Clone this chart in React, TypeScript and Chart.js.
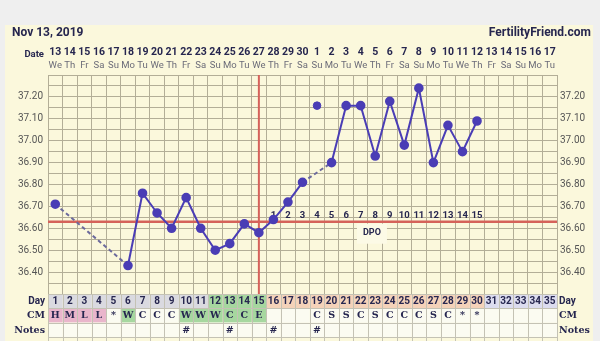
import React, { useEffect, useRef } from 'react';
import { Chart, registerables } from 'chart.js';
Chart.register(...registerables);

// ---------- data ----------
const cycleDays = ['1','2','3','4','5','6','7','8','9','10','11','12','13','14','15','16','17','18','19','20','21','22','23','24','25','26','27','28','29','30','31','32','33','34','35'];
const dateLabels = ['13','14','15','16','17','18','19','20','21','22','23','24','25','26','27','28','29','30','1','2','3','4','5','6','7','8','9','10','11','12','13','14','15','16','17'];
const weekdayLabels = ['We','Th','Fr','Sa','Su','Mo','Tu','We','Th','Fr','Sa','Su','Mo','Tu','We','Th','Fr','Sa','Su','Mo','Tu','We','Th','Fr','Sa','Su','Mo','Tu','We','Th','Fr','Sa','Su','Mo','Tu'];
const temps: (number | null)[] = [36.71, null, null, null, null, 36.43, 36.76, 36.67, 36.60, 36.74, 36.60, 36.50, 36.53, 36.62, 36.58, 36.64, 36.72, 36.81, null, 36.90, 37.16, 37.16, 36.93, 37.18, 36.98, 37.24, 36.90, 37.07, 36.95, 37.09, null, null, null, null, null];
const discardedTemps: (number | null)[] = [null, null, null, null, null, null, null, null, null, null, null, null, null, null, null, null, null, null, 37.16, null, null, null, null, null, null, null, null, null, null, null, null, null, null, null, null];
const coverline = 36.63;
const ovulationDay = '15';
const dpoLabels = ['1','2','3','4','5','6','7','8','9','10','11','12','13','14','15'];
const dpoStartDay = '16';
const yTickLabels = ['36.40','36.50','36.60','36.70','36.80','36.90','37.00','37.10','37.20'];
const cmCodes = ['H','M','L','L','*','W','C','C','C','W','W','W','C','C','E','','','','C','S','S','C','S','C','C','C','S','C','*','*','','','','',''];
const cmShade = ['pink','pink','pink','pink','','green','','','','green','green','green','green','green','green','','','','','','','','','','','','','','','','','','','',''];
const dayShade = ['grey','grey','grey','grey','grey','grey','grey','grey','grey','grey','grey','green','green','green','green','peach','peach','peach','peach','peach','peach','peach','peach','peach','peach','peach','peach','peach','peach','peach','lav','lav','lav','lav','lav'];
const notes = ['','','','','','','','','','#','','','#','','','#','','','#','','','','','','','','','','','','','','','',''];

// ---------- styles ----------
const NAVY = '#26264f';
const GRID = '#b3ae97';
const CREAM = '#fbf8dc';
const RED = '#d5625a';
const LINE = '#4a3db5';
const shadeColors: Record<string, string> = {
  grey: '#dadae0', green: '#a6d79f', peach: '#f4d2b9', lav: '#dcdcef', pink: '#e9b5cb', '': '#fbfbf1',
};
const SANS = 'Roboto, "Liberation Sans", sans-serif';
const SERIF = '"DejaVu Serif", serif';

const gridValues: number[] = [];
for (let i = 0; i <= 20; i++) gridValues.push(Math.round((36.3 + i * 0.05) * 100) / 100);

const tickCb = (v: any) => {
  const s = Number(v).toFixed(2);
  return yTickLabels.includes(s) ? s : '';
};

const decor = {
  id: 'ffDecor',
  beforeDraw(chart: any) {
    const { ctx, width, height } = chart;
    ctx.save();
    ctx.fillStyle = '#efefef';
    ctx.fillRect(0, 0, width, height);
    ctx.fillStyle = CREAM;
    ctx.fillRect(5, 25, 588, height - 25);
    ctx.restore();
  },
  beforeDatasetsDraw(chart: any) {
    const { ctx, chartArea: ca } = chart;
    const x = chart.scales.x;
    const y = chart.scales.y;
    ctx.save();
    const yc = y.getPixelForValue(coverline);
    const xd = (x.getPixelForValue(cycleDays.indexOf('22')) + x.getPixelForValue(cycleDays.indexOf('23'))) / 2 + 4;
    ctx.fillStyle = '#fcfae6';
    ctx.fillRect(xd - 15, yc + 2, 30, 20);
    ctx.fillStyle = NAVY;
    ctx.font = `bold 9px ${SANS}`;
    ctx.textAlign = 'center';
    ctx.textBaseline = 'middle';
    ctx.fillText('DPO', xd, yc + 11.5);
    ctx.strokeStyle = RED;
    ctx.lineWidth = 2.5;
    ctx.beginPath();
    ctx.moveTo(ca.left, yc);
    ctx.lineTo(ca.right, yc);
    ctx.stroke();
    const xo = x.getPixelForValue(cycleDays.indexOf(ovulationDay));
    ctx.lineWidth = 2;
    ctx.beginPath();
    ctx.moveTo(xo, ca.top);
    ctx.lineTo(xo, ca.bottom);
    ctx.stroke();
    const s = cycleDays.indexOf(dpoStartDay);
    ctx.fillStyle = NAVY;
    ctx.font = `bold 9.5px ${SANS}`;
    ctx.textBaseline = 'alphabetic';
    dpoLabels.forEach((t, i) => {
      ctx.fillText(t, x.getPixelForValue(s + i), yc - 4);
    });
    ctx.restore();
  },
  afterDraw(chart: any) {
    const { ctx, chartArea: ca, height } = chart;
    const x = chart.scales.x;
    const colW = x.getPixelForValue(1) - x.getPixelForValue(0);
    ctx.save();
    ctx.fillStyle = NAVY;
    ctx.textBaseline = 'middle';
    ctx.font = `bold 12px ${SANS}`;
    ctx.textAlign = 'left';
    ctx.fillText('Nov 13, 2019', 12, 33);
    ctx.textAlign = 'right';
    ctx.fillText('FertilityFriend.com', 591, 33);
    ctx.textBaseline = 'alphabetic';
    ctx.font = `bold 9.5px ${SANS}`;
    ctx.fillText('Date', 44, 57);
    ctx.textAlign = 'center';
    dateLabels.forEach((t, i) => {
      const px = x.getPixelForValue(i);
      ctx.fillStyle = NAVY;
      ctx.font = `bold 10.5px ${SANS}`;
      ctx.fillText(t, px, 55);
      ctx.fillStyle = '#6b6b78';
      ctx.font = `9.5px ${SANS}`;
      ctx.fillText(weekdayLabels[i], px, 68);
    });
    const rowH = 14.3;
    const top = ca.bottom;
    const rows = [
      { label: 'Day', texts: cycleDays, shade: dayShade, font: `bold 10px ${SANS}` },
      { label: 'CM', texts: cmCodes, shade: cmShade, font: `bold 9.5px ${SERIF}` },
      { label: 'Notes', texts: notes, shade: [] as string[], font: `bold 9.5px ${SERIF}` },
    ];
    rows.forEach((r, ri) => {
      const ry = top + ri * rowH;
      cycleDays.forEach((_, i) => {
        const px = x.getPixelForValue(i);
        ctx.fillStyle = shadeColors[r.shade[i] || ''];
        ctx.fillRect(px - colW / 2, ry, colW, rowH);
      });
      ctx.fillStyle = NAVY;
      ctx.textBaseline = 'middle';
      ctx.font = r.label === 'Day' ? `bold 10px ${SANS}` : `bold 9.5px ${SERIF}`;
      ctx.textAlign = 'right';
      ctx.fillText(r.label, 45, ry + rowH / 2 + 0.5);
      ctx.textAlign = 'left';
      ctx.fillText(r.label, 559, ry + rowH / 2 + 0.5);
      ctx.font = r.font;
      ctx.textAlign = 'center';
      r.texts.forEach((t, i) => {
        if (t) ctx.fillText(t, x.getPixelForValue(i), ry + rowH / 2 + 0.5);
      });
    });
    ctx.strokeStyle = '#c4c2b4';
    ctx.lineWidth = 1;
    ctx.beginPath();
    for (let i = 0; i <= cycleDays.length; i++) {
      const px = Math.round(x.getPixelForValue(0) - colW / 2 + i * colW) + 0.5;
      ctx.moveTo(px, top);
      ctx.lineTo(px, height);
    }
    for (let k = 0; k <= 3; k++) {
      const py = Math.round(top + k * rowH) + 0.5;
      ctx.moveTo(ca.left, py);
      ctx.lineTo(ca.right, py);
    }
    ctx.stroke();
    ctx.restore();
  },
};

export default function App() {
  const ref = useRef<HTMLCanvasElement>(null);
  useEffect(() => {
    if (!ref.current) return;
    const chart = new Chart(ref.current, {
      type: 'line',
      data: {
        labels: cycleDays,
        datasets: [
          {
            data: temps,
            borderColor: LINE,
            backgroundColor: LINE,
            pointBackgroundColor: LINE,
            pointBorderColor: LINE,
            pointRadius: 3.8,
            borderWidth: 2,
            spanGaps: true,
            segment: {
              borderDash: (c: any) => (c.p0.skip || c.p1.skip ? [4, 3] : undefined),
              borderColor: (c: any) => (c.p0.skip || c.p1.skip ? '#6c6a9c' : undefined),
            },
          } as any,
          {
            data: discardedTemps,
            showLine: false,
            pointBackgroundColor: LINE,
            pointBorderColor: LINE,
            pointRadius: 3.8,
          } as any,
        ],
      },
      options: {
        responsive: false,
        animation: false,
        devicePixelRatio: 1,
        layout: { padding: { top: 75, bottom: 47, left: 0, right: 0 } },
        plugins: { legend: { display: false }, tooltip: { enabled: false } },
        scales: {
          x: {
            type: 'category',
            offset: true,
            grid: { offset: true, color: GRID, drawTicks: false, lineWidth: 1 },
            border: { display: false },
            ticks: { display: false },
            afterFit: (s: any) => { s.height = 0; },
          },
          y: {
            position: 'left',
            min: 36.3,
            max: 37.3,
            grid: { color: GRID, drawTicks: false, lineWidth: 1 },
            border: { display: false },
            ticks: { callback: tickCb, padding: 5, color: '#555', font: { family: SANS, size: 10 }, autoSkip: false },
            afterBuildTicks: (s: any) => { s.ticks = gridValues.map((v) => ({ value: v })); },
            afterFit: (s: any) => { s.width = 48; },
          },
          y2: {
            position: 'right',
            min: 36.3,
            max: 37.3,
            grid: { display: false, drawTicks: false },
            border: { display: false },
            ticks: { callback: tickCb, padding: 3, color: '#555', font: { family: SANS, size: 10 }, autoSkip: false },
            afterBuildTicks: (s: any) => { s.ticks = gridValues.map((v) => ({ value: v })); },
            afterFit: (s: any) => { s.width = 43; },
          },
        },
      } as any,
      plugins: [decor],
    });
    return () => chart.destroy();
  }, []);
  return (
    <div style={{ position: 'fixed', left: 0, top: 0, width: 600, height: 341 }}>
      <canvas ref={ref} width={600} height={341} style={{ display: 'block', width: 600, height: 341 }} />
    </div>
  );
}
